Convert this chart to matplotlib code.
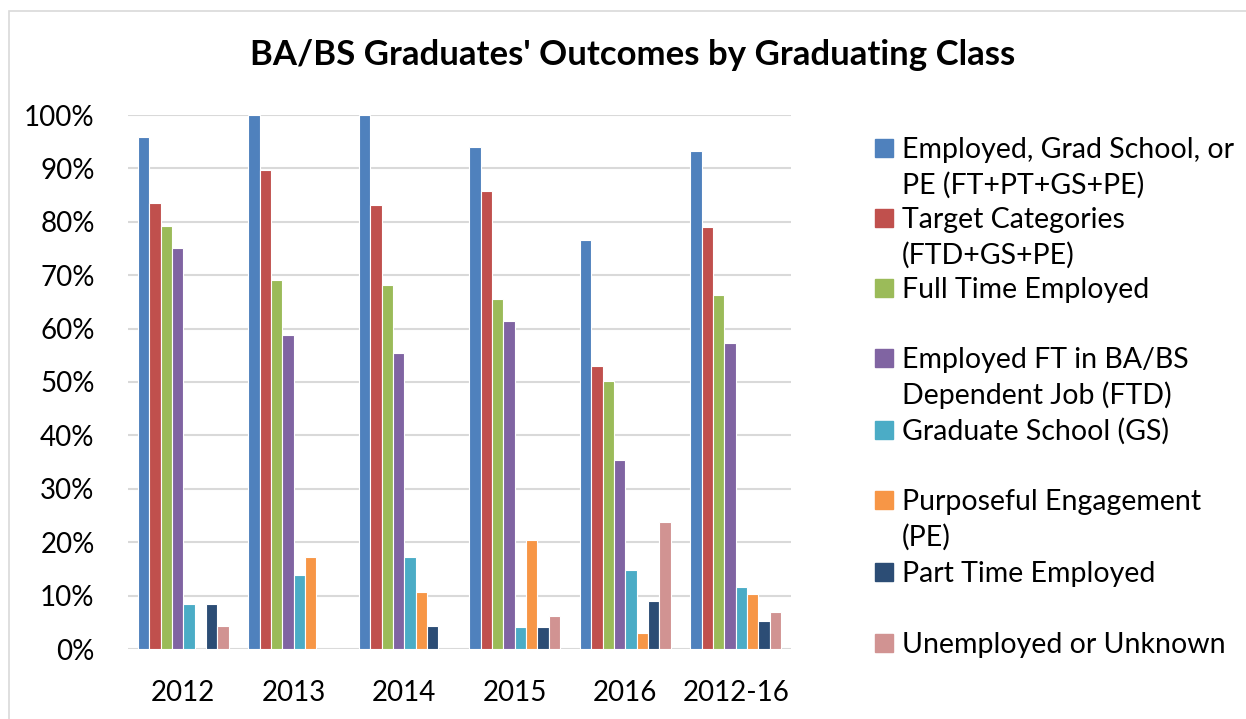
import matplotlib.pyplot as plt
import numpy as np
from matplotlib.patches import Rectangle

plt.rcParams['font.family'] = ['Lato', 'DejaVu Sans']

# Datos (fraccion)
clases = ["2012", "2013", "2014", "2015", "2016", "2012-16"]
series = ["Employed, Grad School, or\nPE (FT+PT+GS+PE)",
          "Target Categories\n(FTD+GS+PE)",
          "Full Time Employed",
          "Employed FT in BA/BS\nDependent Job (FTD)",
          "Graduate School (GS)",
          "Purposeful Engagement\n(PE)",
          "Part Time Employed",
          "Unemployed or Unknown"]
colores = ["#4F81BD", "#C0504D", "#9BBB59", "#8064A2",
           "#4BACC6", "#F79646", "#2C4D75", "#D19392"]

empleado_gs_pe = [0.959, 1.000, 1.000, 0.940, 0.766, 0.933]
target = [0.835, 0.897, 0.831, 0.857, 0.530, 0.790]
full_time = [0.792, 0.691, 0.682, 0.655, 0.502, 0.663]
ft_dependiente = [0.751, 0.588, 0.554, 0.614, 0.354, 0.573]
grad_school = [0.084, 0.139, 0.172, 0.041, 0.148, 0.116]
purposeful = [0.0, 0.172, 0.107, 0.204, 0.030, 0.103]
part_time = [0.084, 0.0, 0.043, 0.041, 0.090, 0.052]
desempleado = [0.043, 0.0, 0.0, 0.062, 0.238, 0.069]

valores = [empleado_gs_pe, target, full_time, ft_dependiente,
           grad_school, purposeful, part_time, desempleado]

W, H = 1246, 719
fig = plt.figure(figsize=(W / 100, H / 100), dpi=100)
ax = fig.add_axes([128 / W, 1 - 649 / H, (791 - 128) / W, (649 - 115) / H])

x = np.arange(len(clases))
ancho = 0.1025
for i in range(len(valores)):
    ax.bar(x + (i - 3.5) * ancho, valores[i], ancho, color=colores[i],
           edgecolor="white", linewidth=0.8, zorder=3)

ax.set_xlim(-0.5, len(clases) - 0.5)
ax.set_ylim(0, 1.0)
ax.set_yticks(np.arange(0, 1.01, 0.1))
ax.set_yticklabels([f"{int(round(v * 100))}%" for v in np.arange(0, 1.01, 0.1)])
ax.set_xticks(x)
ax.set_xticklabels(clases)
ax.tick_params(axis="both", length=0, labelsize=20, colors="black")
ax.tick_params(axis="y", pad=24)
ax.tick_params(axis="x", pad=22)
ax.grid(axis="y", color="#d9d9d9", linewidth=1.5, zorder=0)
for s in ax.spines.values():
    s.set_visible(False)

fig.text(633 / W, 1 - 55 / H, "BA/BS Graduates' Outcomes by Graduating Class",
         ha="center", va="center", fontsize=25, fontweight="bold")

# Leyenda dibujada a mano (cuadro alineado con la primera linea)
y_entradas = [148, 218, 288, 358, 430, 500, 572, 643]
for i in range(len(series)):
    yc = y_entradas[i]
    fig.add_artist(Rectangle((875 / W, 1 - (yc + 9) / H), 18 / W, 18 / H,
                             transform=fig.transFigure, color=colores[i]))
    for j, linea in enumerate(series[i].split("\n")):
        fig.text(902 / W, 1 - (yc + 10 + 36 * j) / H, linea,
                 ha="left", va="baseline", fontsize=20.5)

# Borde del area del grafico
fig.add_artist(Rectangle((8.5 / W, -0.1), 2, 1 - 11.5 / H + 0.1,
                         transform=fig.transFigure, fill=False,
                         edgecolor="#d9d9d9", linewidth=1.2))

plt.savefig("out.png", dpi=100)
